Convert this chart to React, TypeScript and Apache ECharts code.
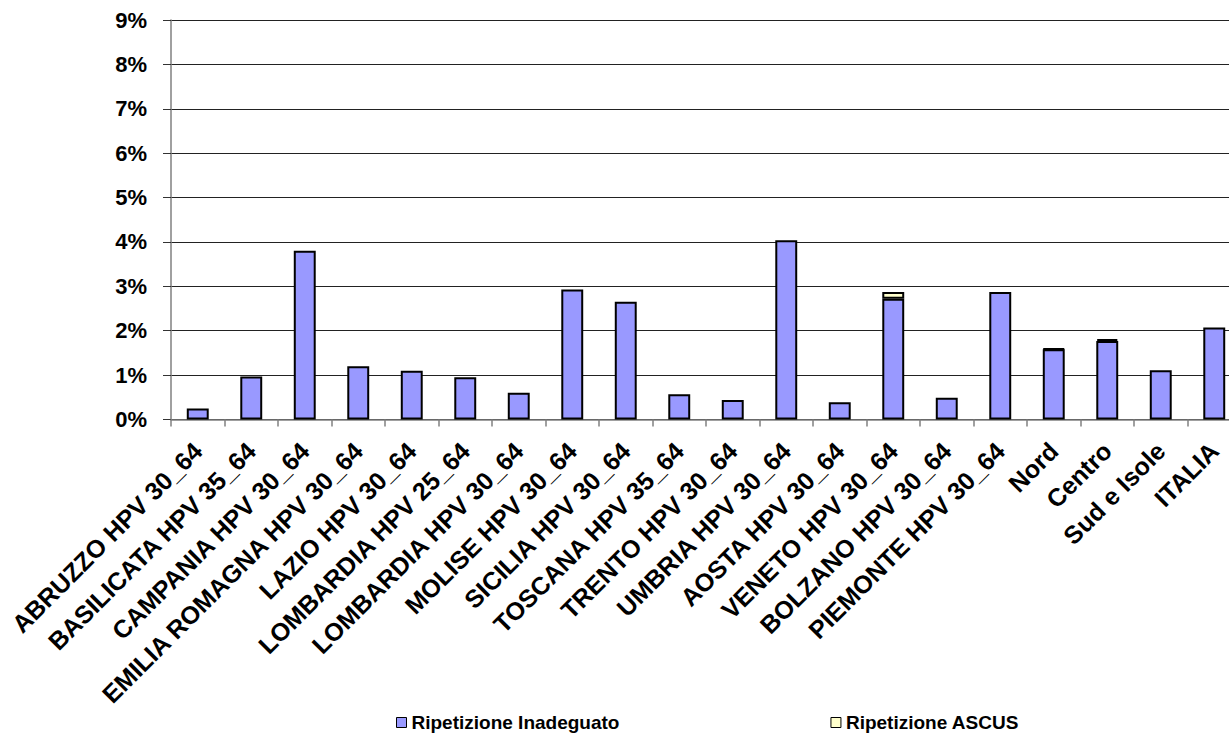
import React, { useEffect, useRef } from "react";
import * as echarts from "echarts";

const categories = [
  "ABRUZZO HPV 30_64",
  "BASILICATA HPV 35_64",
  "CAMPANIA HPV 30_64",
  "EMILIA ROMAGNA HPV 30_64",
  "LAZIO HPV 30_64",
  "LOMBARDIA HPV 25_64",
  "LOMBARDIA HPV 30_64",
  "MOLISE HPV 30_64",
  "SICILIA HPV 30_64",
  "TOSCANA HPV 35_64",
  "TRENTO HPV 30_64",
  "UMBRIA HPV 30_64",
  "AOSTA HPV 30_64",
  "VENETO HPV 30_64",
  "BOLZANO HPV 30_64",
  "PIEMONTE HPV 30_64",
  "Nord",
  "Centro",
  "Sud e Isole",
  "ITALIA",
];

const ripetizioneInadeguato = [
  0.25, 0.97, 3.8, 1.2, 1.1, 0.95, 0.6, 2.93, 2.65, 0.57, 0.44, 4.04, 0.39, 2.72, 0.49, 2.87, 1.58, 1.77, 1.11, 2.07,
];

const ripetizioneASCUS = [
  0, 0, 0, 0, 0, 0, 0, 0, 0, 0, 0, 0, 0, 0.15, 0, 0, 0.02, 0.04, 0, 0,
];

const yTicks = { min: 0, max: 9, interval: 1 };

const FONT = "'Liberation Sans', Arial, sans-serif";

export default function App() {
  const ref = useRef<HTMLDivElement>(null);

  useEffect(() => {
    if (!ref.current) return;
    const chart = echarts.init(ref.current, null, { renderer: "svg" });
    chart.setOption({
      animation: false,
      backgroundColor: "#ffffff",
      textStyle: { fontFamily: FONT },
      grid: { left: 171, right: 19, top: 20, bottom: 313.5, containLabel: false },
      legend: {
        left: 396,
        top: 713,
        padding: 0,
        itemWidth: 10,
        itemHeight: 10,
        itemGap: 211,
        icon: "rect",
        itemStyle: { borderColor: "#000", borderWidth: 1 },
        textStyle: { fontFamily: FONT, fontWeight: "bold", fontSize: 19, color: "#000" },
        data: ["Ripetizione Inadeguato", "Ripetizione ASCUS"],
      },
      xAxis: {
        type: "category",
        data: categories,
        axisLine: { lineStyle: { color: "#808080", width: 1.5 } },
        axisTick: { show: true, length: 7, lineStyle: { color: "#808080", width: 1.5 } },
        axisLabel: {
          interval: 0,
          rotate: 45,
          margin: 27,
          fontFamily: FONT,
          fontWeight: "bold",
          fontSize: 25,
          color: "#000",
        },
      },
      yAxis: {
        type: "value",
        min: yTicks.min,
        max: yTicks.max,
        interval: yTicks.interval,
        axisLine: { show: true, lineStyle: { color: "#808080", width: 1.5 } },
        axisTick: { show: true, length: 8, lineStyle: { color: "#333", width: 1 } },
        splitLine: { show: true, lineStyle: { color: "#222", width: 1 } },
        axisLabel: {
          formatter: "{value}%",
          margin: 24,
          fontFamily: FONT,
          fontWeight: "bold",
          fontSize: 22,
          color: "#000",
        },
      },
      series: [
        {
          name: "Ripetizione Inadeguato",
          type: "bar",
          stack: "tot",
          barWidth: "41%",
          data: ripetizioneInadeguato,
          itemStyle: { color: "#9999FF", borderColor: "#000", borderWidth: 2 },
        },
        {
          name: "Ripetizione ASCUS",
          type: "bar",
          stack: "tot",
          barWidth: "41%",
          data: ripetizioneASCUS.map((v) => (v === 0 ? null : v)),
          itemStyle: { color: "#FFFFCC", borderColor: "#000", borderWidth: 2 },
        },
      ],
    });
    return () => chart.dispose();
  }, []);

  return (
    <div style={{ position: "fixed", left: 0, top: 0, width: 1229, height: 733, overflow: "hidden", background: "#fff" }}>
      <div ref={ref} style={{ width: 1260, height: 733 }} />
    </div>
  );
}
